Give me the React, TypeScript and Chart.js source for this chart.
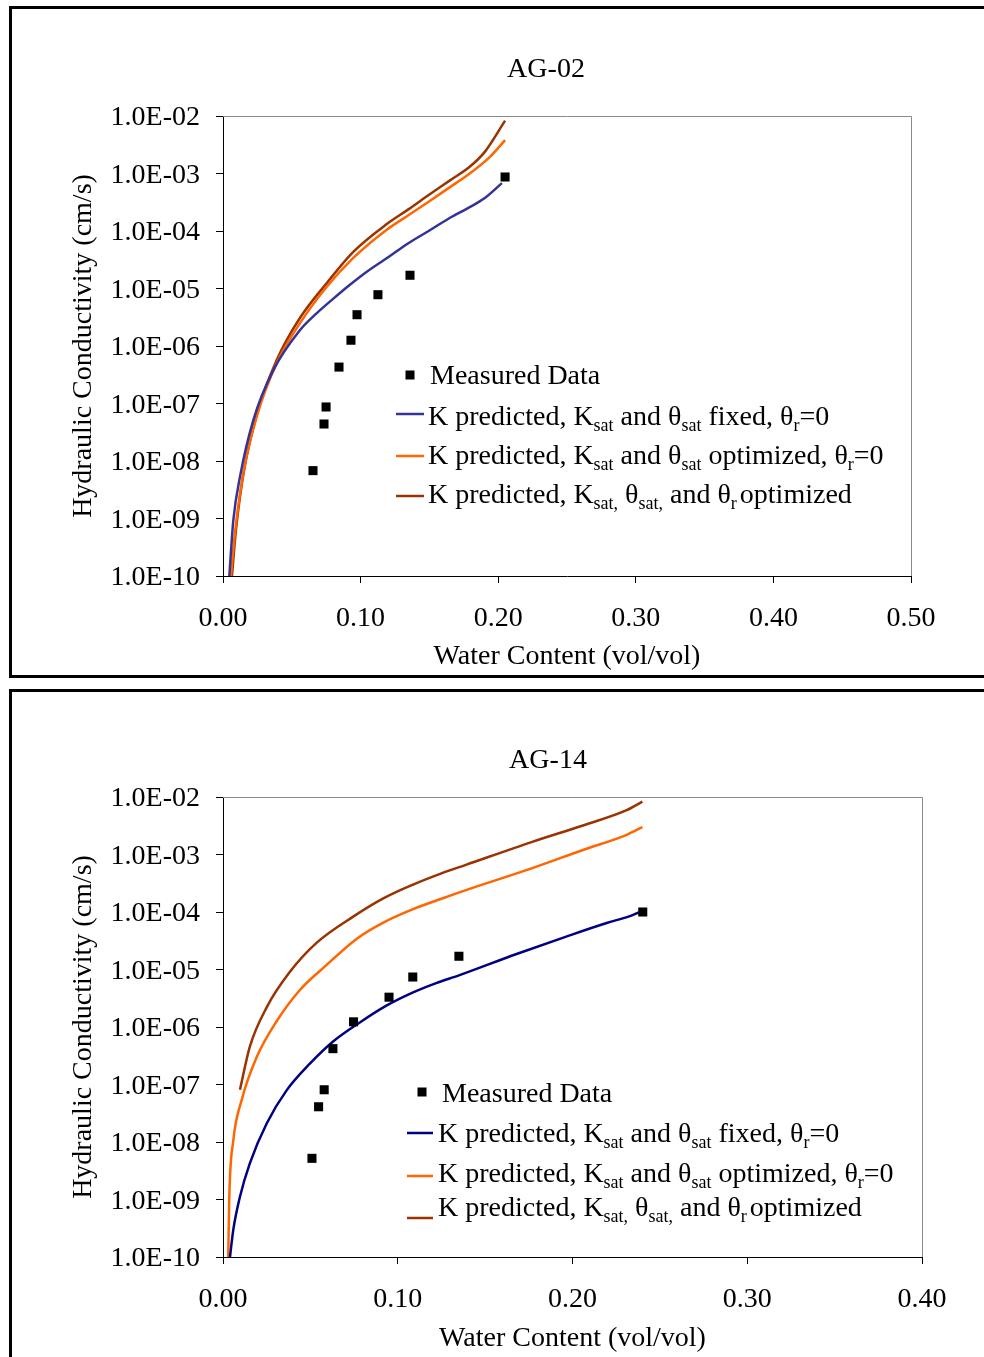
import React, { useEffect, useRef } from 'react';
import { Chart, registerables } from 'chart.js';

Chart.register(...registerables);

const FONT = "'Liberation Serif', 'Times New Roman', Times, serif";

// ---- shared axis data ----
const yTickValues = [1e-2, 1e-3, 1e-4, 1e-5, 1e-6, 1e-7, 1e-8, 1e-9, 1e-10];
const yTickLabels = ['1.0E-02', '1.0E-03', '1.0E-04', '1.0E-05', '1.0E-06', '1.0E-07', '1.0E-08', '1.0E-09', '1.0E-10'];
const yAxisTitle = 'Hydraulic Conductivity (cm/s)';
const xAxisTitle = 'Water Content (vol/vol)';

// ---- AG-02 ----
const ag02Title = 'AG-02';
const ag02XTickValues = [0, 0.1, 0.2, 0.3, 0.4, 0.5];
const ag02XTickLabels = ['0.00', '0.10', '0.20', '0.30', '0.40', '0.50'];
const ag02MeasuredTheta = [0.0654, 0.0734, 0.0749, 0.0843, 0.093, 0.0974, 0.1126, 0.1359, 0.205];
const ag02MeasuredK = [6.8e-9, 4.4e-8, 8.7e-8, 4.3e-7, 1.26e-6, 3.5e-6, 7.8e-6, 1.7e-5, 8.7e-4];
const ag02FixedTheta = [0.0046, 0.0075, 0.0124, 0.022, 0.0366, 0.056, 0.068, 0.08, 0.092, 0.105, 0.12, 0.135, 0.15, 0.165, 0.178, 0.19, 0.2027];
const ag02FixedK = [1.0e-10, 9.3e-10, 5.4e-9, 5.1e-8, 3.8e-7, 1.9e-6, 3.7e-6, 6.6e-6, 1.15e-5, 2.0e-5, 3.5e-5, 6.2e-5, 1.02e-4, 1.7e-4, 2.5e-4, 3.7e-4, 6.8e-4];
const ag02OptTheta = [0.0058, 0.0087, 0.0148, 0.0245, 0.039, 0.056, 0.0754, 0.0947, 0.119, 0.135, 0.15, 0.165, 0.177, 0.194, 0.205];
const ag02OptK = [1.0e-10, 5.6e-10, 6.2e-9, 5.9e-8, 5.0e-7, 2.5e-6, 1.07e-5, 3.4e-5, 1.05e-4, 1.9e-4, 3.3e-4, 5.8e-4, 9.1e-4, 1.95e-3, 3.8e-3];
const ag02AllTheta = [0.0065, 0.0094, 0.0153, 0.0247, 0.0392, 0.056, 0.0756, 0.0945, 0.119, 0.135, 0.15, 0.165, 0.1795, 0.1904, 0.205];
const ag02AllK = [1.0e-10, 6.3e-10, 6.9e-9, 6.6e-8, 5.8e-7, 3.1e-6, 1.26e-5, 4.3e-5, 1.32e-4, 2.4e-4, 4.3e-4, 7.6e-4, 1.32e-3, 2.4e-3, 8.3e-3];

// ---- AG-14 ----
const ag14Title = 'AG-14';
const ag14XTickValues = [0, 0.1, 0.2, 0.3, 0.4];
const ag14XTickLabels = ['0.00', '0.10', '0.20', '0.30', '0.40'];
const ag14MeasuredTheta = [0.0509, 0.0547, 0.0579, 0.0629, 0.0747, 0.095, 0.1086, 0.135, 0.2402];
const ag14MeasuredK = [5.2e-9, 4.1e-8, 8.1e-8, 4.2e-7, 1.23e-6, 3.3e-6, 7.4e-6, 1.7e-5, 1.0e-4];
const ag14FixedTheta = [0.004, 0.0059, 0.0097, 0.0154, 0.025, 0.0364, 0.0497, 0.063, 0.0783, 0.0935, 0.1088, 0.122, 0.135, 0.168, 0.196, 0.22, 0.232, 0.238];
const ag14FixedK = [1.0e-10, 3.0e-10, 1.12e-9, 4.3e-9, 2.1e-8, 7.9e-8, 2.3e-7, 5.6e-7, 1.2e-6, 2.35e-6, 4.0e-6, 5.8e-6, 7.9e-6, 1.86e-5, 3.7e-5, 6.5e-5, 8.3e-5, 9.8e-5];
const ag14OptTheta = [0.003, 0.0036, 0.0059, 0.0107, 0.0193, 0.0307, 0.044, 0.0593, 0.0764, 0.092, 0.1088, 0.125, 0.139, 0.177, 0.206, 0.231, 0.24];
const ag14OptK = [1.0e-10, 1.12e-9, 1.07e-8, 5.4e-8, 3.0e-7, 1.26e-6, 4.4e-6, 1.2e-5, 3.4e-5, 6.6e-5, 1.12e-4, 1.7e-4, 2.4e-4, 5.8e-4, 1.2e-3, 2.2e-3, 3.0e-3];
const ag14AllTheta = [0.0097, 0.0154, 0.025, 0.0383, 0.0535, 0.0745, 0.092, 0.1088, 0.125, 0.139, 0.177, 0.206, 0.231, 0.24];
const ag14AllK = [8.1e-8, 4.6e-7, 2.2e-6, 9.1e-6, 2.9e-5, 8.3e-5, 1.74e-4, 3.0e-4, 4.7e-4, 6.6e-4, 1.66e-3, 3.2e-3, 5.9e-3, 8.3e-3];

// ---- legend texts: [text, isSubscript] ----
const legendMeasured = 'Measured Data';
const legendFixed: [string, boolean][] = [['K predicted, K', false], ['sat', true], [' and θ', false], ['sat', true], [' fixed, θ', false], ['r', true], ['=0', false]];
const legendOpt: [string, boolean][] = [['K predicted, K', false], ['sat', true], [' and θ', false], ['sat', true], [' optimized, θ', false], ['r', true], ['=0', false]];
const legendAll: [string, boolean][] = [['K predicted, K', false], ['sat,', true], [' θ', false], ['sat,', true], [' and θ', false], ['r', true], ['optimized', false]];

const ORANGE = '#FF6600';
const BROWN = '#993300';

function pts(xs: number[], ys: number[]) {
  return xs.map((x, i) => ({ x, y: ys[i] }));
}

function drawRich(ctx: CanvasRenderingContext2D, x: number, baseline: number, segs: [string, boolean][]) {
  let cx = x;
  segs.forEach(([text, sub], i) => {
    ctx.font = sub ? `18px ${FONT}` : `28px ${FONT}`;
    ctx.fillText(text, cx, sub ? baseline + 6 : baseline);
    cx += ctx.measureText(text).width;
    // small gap after final subscript before a word that has no leading space
    if (sub && i + 1 < segs.length && !segs[i + 1][0].startsWith(' ') && !segs[i + 1][0].startsWith('=')) cx += 3;
  });
}

type Spec = {
  left: number; top: number; w: number; h: number;
  area: { left: number; right: number; top: number; bottom: number };
  title: string; titleX: number; titleY: number;
  xMax: number; xTickValues: number[]; xTickLabels: string[];
  measured: { x: number; y: number }[];
  fixed: { x: number; y: number }[];
  opt: { x: number; y: number }[];
  all: { x: number; y: number }[];
  blue: string;
  legend: { sqX: number; sqY: number; mText: number; mBase: number; dashL: number; dashR: number; tX: number; rows: { dash: number; base: number }[] };
};

function HydroChart({ spec }: { spec: Spec }) {
  const ref = useRef<HTMLCanvasElement>(null);
  useEffect(() => {
    const canvas = ref.current!;
    const a = spec.area;
    const decor = {
      id: 'decor',
      beforeDatasetsDraw(chart: any) {
        const { ctx, chartArea } = chart;
        ctx.save();
        ctx.strokeStyle = '#8a8a8a';
        ctx.lineWidth = 1;
        ctx.beginPath();
        ctx.moveTo(chartArea.left, chartArea.top + 0.5);
        ctx.lineTo(chartArea.right + 0.5, chartArea.top + 0.5);
        ctx.lineTo(chartArea.right + 0.5, chartArea.bottom);
        ctx.stroke();
        ctx.restore();
      },
      afterDraw(chart: any) {
        const ctx: CanvasRenderingContext2D = chart.ctx;
        ctx.save();
        ctx.fillStyle = '#000';
        ctx.font = `28px ${FONT}`;
        ctx.textAlign = 'center';
        ctx.textBaseline = 'middle';
        ctx.fillText(spec.title, spec.titleX, spec.titleY);
        // legend
        const L = spec.legend;
        ctx.textAlign = 'left';
        ctx.textBaseline = 'alphabetic';
        ctx.fillRect(L.sqX - 4.5, L.sqY - 4.5, 9, 9);
        ctx.font = `28px ${FONT}`;
        ctx.fillText(legendMeasured, L.mText, L.mBase);
        const colors = [spec.blue, ORANGE, BROWN];
        const texts = [legendFixed, legendOpt, legendAll];
        L.rows.forEach((r, i) => {
          ctx.strokeStyle = colors[i];
          ctx.lineWidth = 2.5;
          ctx.beginPath();
          ctx.moveTo(L.dashL, r.dash);
          ctx.lineTo(L.dashR, r.dash);
          ctx.stroke();
          ctx.fillStyle = '#000';
          drawRich(ctx, L.tX, r.base, texts[i]);
        });
        ctx.restore();
      },
    };
    const lineDs = (label: string, data: any[], color: string) => ({
      label, data, showLine: true, borderColor: color, backgroundColor: color,
      borderWidth: 2.5, pointRadius: 0, pointHoverRadius: 0, cubicInterpolationMode: 'monotone' as const,
    });
    const chart = new Chart(canvas, {
      type: 'scatter',
      data: {
        datasets: [
          { label: legendMeasured, data: spec.measured, pointStyle: 'rect', pointRadius: 6.4, backgroundColor: '#000', borderColor: '#000', borderWidth: 0, showLine: false },
          lineDs('fixed', spec.fixed, spec.blue),
          lineDs('opt', spec.opt, ORANGE),
          lineDs('all', spec.all, BROWN),
        ],
      },
      options: {
        animation: false,
        responsive: false,
        devicePixelRatio: 1,
        layout: { padding: { left: 0, top: a.top, right: spec.w - a.right, bottom: 0 } },
        plugins: { legend: { display: false }, title: { display: false }, tooltip: { enabled: false } },
        scales: {
          x: {
            type: 'linear', min: 0, max: spec.xMax,
            afterBuildTicks: (s: any) => { s.ticks = spec.xTickValues.map((v) => ({ value: v })); },
            afterFit: (s: any) => { s.height = spec.h - a.bottom; },
            ticks: {
              color: '#000', font: { family: FONT, size: 28 }, padding: 19, maxRotation: 0,
              callback: (_v: any, i: number) => spec.xTickLabels[i],
            },
            grid: { drawOnChartArea: false, drawTicks: true, tickLength: 7, color: '#000' },
            border: { display: true, color: '#000', width: 1 },
            title: { display: true, text: xAxisTitle, color: '#000', font: { family: FONT, size: 28 }, padding: { top: 0, bottom: 2 } },
          },
          y: {
            type: 'logarithmic', min: 1e-10, max: 1e-2,
            afterBuildTicks: (s: any) => { s.ticks = yTickValues.map((v) => ({ value: v })); },
            afterFit: (s: any) => { s.width = a.left; },
            ticks: {
              color: '#000', font: { family: FONT, size: 28 }, padding: 16, autoSkip: false, labelOffset: 2,
              callback: (_v: any, i: number) => yTickLabels[i],
            },
            grid: { drawOnChartArea: false, drawTicks: true, tickLength: 7, color: '#000' },
            border: { display: true, color: '#000', width: 1 },
            title: { display: true, text: yAxisTitle, color: '#000', font: { family: FONT, size: 28 }, padding: { top: 55, bottom: 0 } },
          },
        },
      } as any,
      plugins: [decor],
    });
    return () => chart.destroy();
  }, []);
  return (
    <canvas
      ref={ref}
      width={spec.w}
      height={spec.h}
      style={{ position: 'absolute', left: spec.left, top: spec.top, width: spec.w, height: spec.h }}
    />
  );
}

const topSpec: Spec = {
  left: 12, top: 9, w: 972, h: 666,
  area: { left: 211, right: 899, top: 107, bottom: 567 },
  title: ag02Title, titleX: 534, titleY: 61,
  xMax: 0.5, xTickValues: ag02XTickValues, xTickLabels: ag02XTickLabels,
  measured: pts(ag02MeasuredTheta, ag02MeasuredK),
  fixed: pts(ag02FixedTheta, ag02FixedK),
  opt: pts(ag02OptTheta, ag02OptK),
  all: pts(ag02AllTheta, ag02AllK),
  blue: '#333399',
  legend: {
    sqX: 398, sqY: 366, mText: 418, mBase: 375, dashL: 384, dashR: 412, tX: 416,
    rows: [{ dash: 405, base: 416 }, { dash: 447, base: 455 }, { dash: 487, base: 494 }],
  },
};

const bottomSpec: Spec = {
  left: 12, top: 692, w: 972, h: 665,
  area: { left: 211, right: 910, top: 105, bottom: 565 },
  title: ag14Title, titleX: 536, titleY: 69,
  xMax: 0.4, xTickValues: ag14XTickValues, xTickLabels: ag14XTickLabels,
  measured: pts(ag14MeasuredTheta, ag14MeasuredK),
  fixed: pts(ag14FixedTheta, ag14FixedK),
  opt: pts(ag14OptTheta, ag14OptK),
  all: pts(ag14AllTheta, ag14AllK),
  blue: '#000080',
  legend: {
    sqX: 410, sqY: 400, mText: 430, mBase: 410, dashL: 395, dashR: 421, tX: 426,
    rows: [{ dash: 441, base: 450 }, { dash: 484, base: 490 }, { dash: 526, base: 524 }],
  },
};

export default function App() {
  return (
    <div style={{ position: 'absolute', left: 0, top: 0, width: 984, height: 1357, overflow: 'hidden', background: '#fff' }}>
      <div style={{ position: 'absolute', left: 9, top: 6, width: 1000, height: 672, border: '3px solid #000', boxSizing: 'border-box' }} />
      <div style={{ position: 'absolute', left: 9, top: 689, width: 1000, height: 720, border: '3px solid #000', boxSizing: 'border-box' }} />
      <HydroChart spec={topSpec} />
      <HydroChart spec={bottomSpec} />
    </div>
  );
}
